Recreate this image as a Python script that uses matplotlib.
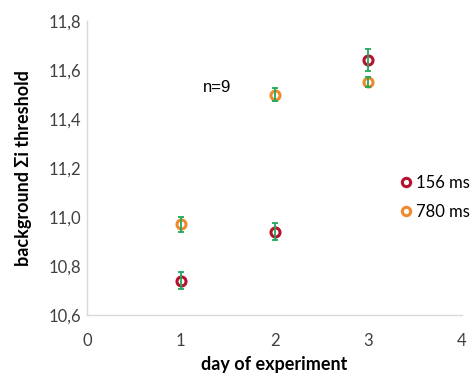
import matplotlib
matplotlib.use("Agg")
import matplotlib.pyplot as plt
from matplotlib.ticker import FuncFormatter
from matplotlib.lines import Line2D

plt.rcParams['font.family'] = ['Lato', 'DejaVu Sans']

dias = [1, 2, 3]
umbral_156 = [10.74, 10.94, 11.64]
err_156 = [0.035, 0.035, 0.045]
umbral_780 = [10.97, 11.50, 11.55]
err_780 = [0.03, 0.025, 0.02]
etiquetas = ['156 ms', '780 ms']

rojo = '#B5122E'
naranja = '#EE8A2E'
verde = '#1FA85A'

fig = plt.figure(figsize=(4.71, 3.76), dpi=100)
ax = fig.add_axes([0.185, 0.162, 0.796, 0.782])

for y, e, c in [(umbral_156, err_156, rojo), (umbral_780, err_780, naranja)]:
    ax.plot(dias, y, 'o', ms=6.5, mfc='none', mec=c, mew=2.2, zorder=3)
    ax.errorbar(dias, y, yerr=e, fmt='none', ecolor=verde, elinewidth=1.3,
                capsize=2.5, capthick=1.3, zorder=4)

ax.set_xlim(0, 4)
ax.set_ylim(10.6, 11.8)
ax.set_xticks([0, 1, 2, 3, 4])
ax.set_yticks([10.6, 10.8, 11.0, 11.2, 11.4, 11.6, 11.8])
ax.yaxis.set_major_formatter(FuncFormatter(lambda v, p: f'{v:.1f}'.replace('.', ',')))
ax.tick_params(length=0, labelsize=12, labelcolor='#404040')
ax.tick_params(axis='x', pad=13)
ax.tick_params(axis='y', pad=4)

for s in ['top', 'right']:
    ax.spines[s].set_visible(False)
for s in ['left', 'bottom']:
    ax.spines[s].set_color('#D9D9D9')
    ax.spines[s].set_linewidth(1)

ax.set_xlabel('day of experiment', fontsize=13, fontweight='bold', labelpad=5)
ax.set_ylabel('background Σi threshold', fontsize=13, fontweight='bold', labelpad=12)

ax.text(1.24, 11.53, 'n=9', fontsize=12, family='Liberation Sans', va='center')

handles = [Line2D([], [], ls='none', marker='o', ms=6, mfc='none', mec=c, mew=2.2)
           for c in [rojo, naranja]]
fig.legend(handles, etiquetas, loc='center left', bbox_to_anchor=(0.83, 0.475),
           frameon=False, fontsize=12, handletextpad=0.1, handlelength=1.0,
           labelspacing=0.8, borderaxespad=0)

fig.savefig('out.png', dpi=100)
